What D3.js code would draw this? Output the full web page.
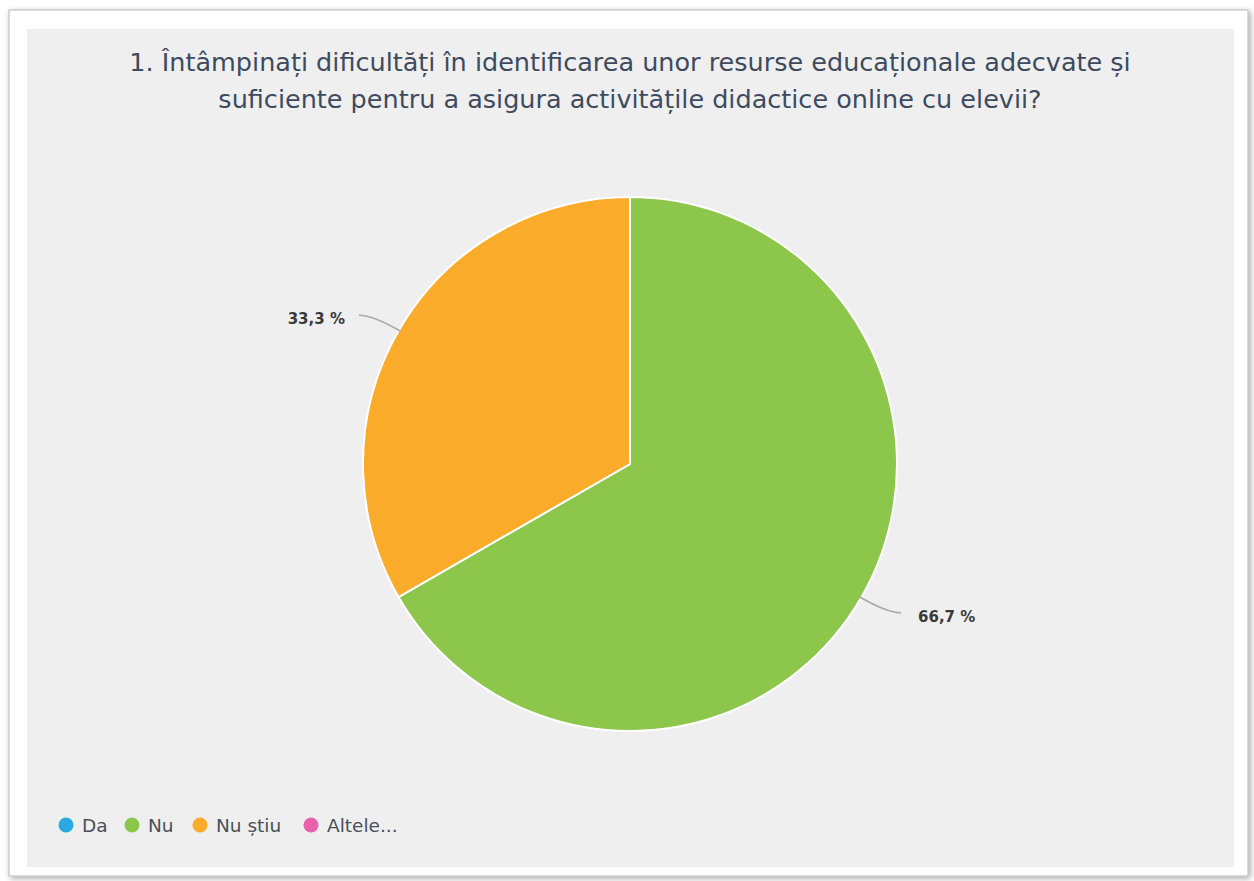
<!DOCTYPE html>
<html lang="ro">
<head>
    <meta charset="UTF-8">
    <title>Pie</title>
    <script src="https://d3js.org/d3.v7.min.js"></script>
    <style>
        body { margin: 0; background: #fff; }
        text { font-family: 'DejaVu Sans', sans-serif; }
    </style>
</head>
<body>
<script>

    const width  = 1254;
    const height = 881;

    const titleLines = [
        '1. Întâmpinați dificultăți în identificarea unor resurse educaționale adecvate și',
        'suficiente pentru a asigura activitățile didactice online cu elevii?'
    ];

    const categories = ['Da', 'Nu', 'Nu știu', 'Altele...'];
    const values     = [0, 66.7, 33.3, 0];
    const colors     = ['#29a9e1', '#8cc64b', '#fbab2a', '#e862ad'];

    const data = categories.map((c, i) => ({name: c, value: values[i]}));

    const svg = d3.select("body")
            .append("svg")
            .attr("width", width)
            .attr("height", height);

    // outer frame with a soft shadow
    const defs = svg.append("defs");
    const f = defs.append("filter").attr("id", "shadow")
            .attr("x", "-5%").attr("y", "-5%").attr("width", "110%").attr("height", "110%");
    f.append("feDropShadow").attr("dx", 2).attr("dy", 2).attr("stdDeviation", 3)
            .attr("flood-color", "#000").attr("flood-opacity", 0.35);

    svg.append("rect")
            .attr("x", 9).attr("y", 10)
            .attr("width", 1239).attr("height", 866)
            .attr("fill", "#fff")
            .attr("stroke", "#b8b8b8")
            .attr("filter", "url(#shadow)");

    svg.append("rect")
            .attr("x", 27).attr("y", 29)
            .attr("width", 1207).attr("height", 838)
            .attr("fill", "#efefef");

    // title
    svg.append("g").selectAll("text")
            .data(titleLines).enter()
            .append("text")
            .attr("x", 630)
            .attr("y", (d, i) => 71 + i * 37)
            .attr("text-anchor", "middle")
            .attr("fill", "#3e4b5e")
            .style("font-size", "25.5px")
            .text(d => d);

    const cx = 630, cy = 464, radius = 267;

    const pie = d3.pie().sort(null).value(d => d.value);
    const arc = d3.arc().innerRadius(0).outerRadius(radius);
    const arcs = pie(data);

    const g = svg.append("g").attr("transform", "translate(" + [cx, cy] + ")");

    g.selectAll(".slice")
            .data(arcs.filter(d => d.data.value > 0))
            .enter()
            .append("path").attr("class", "slice")
            .attr("d", arc)
            .attr("fill", d => colors[categories.indexOf(d.data.name)])
            .attr("stroke", "#fff")
            .attr("stroke-width", 2);

    // leader lines and labels
    const labelled = arcs.filter(d => d.data.value > 0);
    labelled.forEach(d => {
        const a = (d.startAngle + d.endAngle) / 2;
        const side = Math.sin(a) >= 0 ? 1 : -1;
        const x0 = Math.sin(a) * (radius - 2), y0 = -Math.cos(a) * (radius - 2);
        const x1 = Math.sin(a) * (radius + 30), y1 = -Math.cos(a) * (radius + 30);
        const x2 = x1 + side * 14;
        g.append("path")
                .attr("d", "M" + x0 + "," + y0 + " Q" + x1 + "," + y1 + " " + x2 + "," + y1)
                .attr("fill", "none")
                .attr("stroke", "#a8a8a8")
                .attr("stroke-width", 1.5);
        g.append("text")
                .attr("x", x2 + side * (side > 0 ? 17 : 14))
                .attr("y", y1 + 9)
                .attr("text-anchor", side > 0 ? "start" : "end")
                .attr("fill", "#3a3a3a")
                .style("font-size", "15px")
                .style("font-weight", "bold")
                .text(d.data.value.toFixed(1).replace('.', ',') + ' %');
    });

    // legend
    const legendX = [66, 132, 200, 311];
    const legend = svg.append("g").selectAll(".legend")
            .data(categories).enter()
            .append("g").attr("class", "legend")
            .attr("transform", (d, i) => "translate(" + [legendX[i], 825] + ")");
    legend.append("circle")
            .attr("r", 7.5)
            .attr("fill", (d, i) => colors[i]);
    legend.append("text")
            .attr("x", 16)
            .attr("y", 7)
            .attr("fill", "#4a4f58")
            .style("font-size", "18.5px")
            .text(d => d);

</script>
</body>
</html>
